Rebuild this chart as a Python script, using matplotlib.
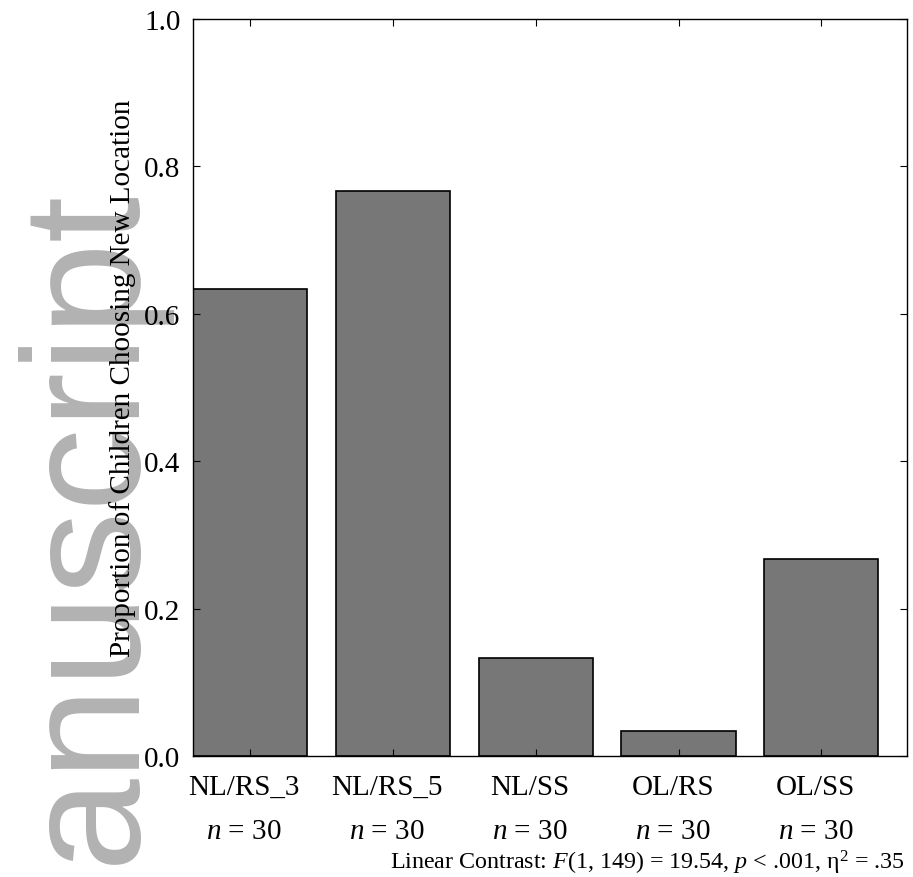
import numpy as np
import matplotlib
matplotlib.use("Agg")
import matplotlib.pyplot as plt
import matplotlib.transforms as mtransforms

# === DATA ===
conditions = ["NL/RS_3", "NL/RS_5", "NL/SS", "OL/RS", "OL/SS"]
n_per_group = [30, 30, 30, 30, 30]
proportions = [19 / 30, 23 / 30, 4 / 30, 1 / 30, 8 / 30]
contrast_text = r"Linear Contrast: $F$(1, 149) = 19.54, $p$ < .001, η$^{2}$ = .35"
ylabel = "Proportion of Children Choosing New Location"

# === STYLE ===
plt.rcParams["font.family"] = ["Liberation Serif", "DejaVu Serif"]
plt.rcParams["mathtext.fontset"] = "custom"
plt.rcParams["mathtext.rm"] = "Liberation Serif"
plt.rcParams["mathtext.it"] = "Liberation Serif:italic"
plt.rcParams["font.size"] = 21

fig = plt.figure(figsize=(9.13, 8.78), dpi=100)
ax = fig.add_axes([193 / 913, 1 - 757 / 878, 714 / 913, 737 / 878])

# === BARS ===
x = np.arange(len(conditions))
ax.bar(x, proportions, width=0.8, align="edge", color="#777777",
       edgecolor="black", linewidth=1.2)
ax.set_xlim(0, len(conditions))
ax.set_ylim(0, 1.0)
ax.set_yticks([0.0, 0.2, 0.4, 0.6, 0.8, 1.0])
ax.set_yticklabels(["0.0", "0.2", "0.4", "0.6", "0.8", "1.0"])
ax.set_xticks(x + 0.4)
ax.set_xticklabels([f"{c}\n$n$ = {n}" for c, n in zip(conditions, n_per_group)],
                   linespacing=1.9)
ax.tick_params(direction="in", top=True, right=True, length=5, width=0.8,
               labelsize=21)
ax.tick_params(axis="x", pad=13)
ax.tick_params(axis="y", pad=9)
for s in ax.spines.values():
    s.set_linewidth(1.0)

# labels sit a little left of the bar centres in the original
shift = mtransforms.ScaledTranslation(-6 / 100, 0, fig.dpi_scale_trans)
for lab in ax.get_xticklabels():
    lab.set_transform(lab.get_transform() + shift)

ax.set_ylabel(ylabel, fontsize=21)
ax.yaxis.set_label_coords(-0.080, 0.514)

fig.text(905 / 913, 1 - 870 / 878, contrast_text, ha="right", va="baseline",
         fontsize=17.3)

# === WATERMARK ===
fig.text(133 / 913, 14 / 878, "anuscript", rotation=90, rotation_mode="anchor",
         ha="left", va="baseline", fontsize=120, color="#b2b2b2",
         family="Liberation Sans", zorder=-5)

fig.savefig("out.png", dpi=100)
